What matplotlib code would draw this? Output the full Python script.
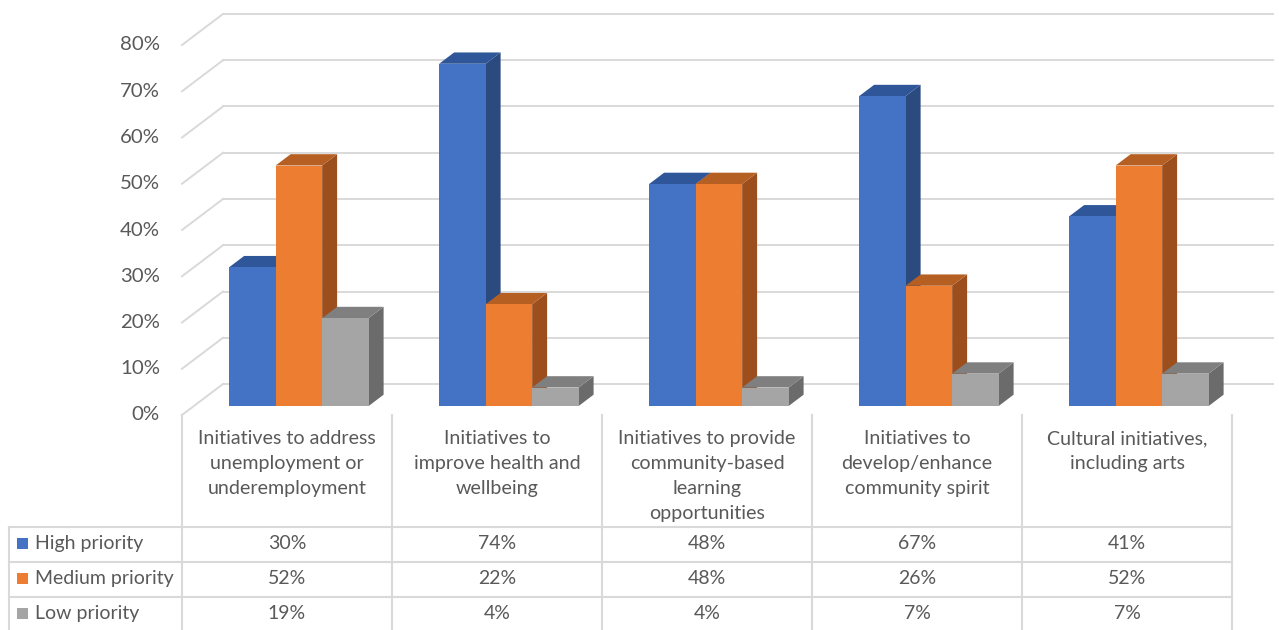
import numpy as np
import matplotlib.pyplot as plt
from matplotlib.patches import Polygon, Rectangle

plt.rcParams['font.family'] = ['Lato', 'DejaVu Sans']

# data
categories = ['Initiatives to address\nunemployment or\nunderemployment',
              'Initiatives to\nimprove health and\nwellbeing',
              'Initiatives to provide\ncommunity-based\nlearning\nopportunities',
              'Initiatives to\ndevelop/enhance\ncommunity spirit',
              'Cultural initiatives,\nincluding arts']
series_names = ['High priority', 'Medium priority', 'Low priority']
high = [30, 74, 48, 67, 41]
medium = [52, 22, 48, 26, 52]
low = [19, 4, 4, 7, 7]
y_ticks = [0, 10, 20, 30, 40, 50, 60, 70, 80]

# face colours: front, top, side
colors = [('#4472C4', '#30569A', '#2B4A80'),
          ('#ED7D31', '#B65F23', '#9C4F1C'),
          ('#A5A5A5', '#7F7F7F', '#6B6B6B')]
grid_c = '#D9D9D9'
text_c = '#595959'

W, H = 1279, 630
fig = plt.figure(figsize=(W / 100, H / 100), dpi=100)

# chart axes: x in category units, y in percent
ax = fig.add_axes([0, 0, 1, 1])
x0_px, cat_px = 182, 210
y0_px, pct_px = 415, 4.625
ax.set_xlim(-x0_px / cat_px, (W - x0_px) / cat_px)
ax.set_ylim(-(H - y0_px) / pct_px, y0_px / pct_px)
ax.axis('off')

n = len(categories)
DX = 41 / cat_px      # full depth offset
DY = 31 / pct_px
d0, d1 = 0.29, 0.655  # bar depth
bw = 46.5 / cat_px

# walls / gridlines
for v in y_ticks:
    ax.plot([DX, n + DX], [v + DY, v + DY], color=grid_c, lw=1.4, zorder=1)
    ax.plot([0, DX], [v, v + DY], color=grid_c, lw=1.4, zorder=1)
    ax.text(-22 / cat_px, v, f'{v}%', ha='right', va='center',
            fontsize=14.7, color=text_c)

# 3d bars
data = [high, medium, low]
dd = d1 - d0
for i in range(n):
    for s, vals in enumerate(data):
        h = vals[i]
        xl = i + 0.5 - 1.5 * bw + s * bw + d0 * DX
        yb = d0 * DY
        front, top, side = colors[s]
        ax.add_patch(Polygon([(xl + bw, yb), (xl + bw, yb + h),
                              (xl + bw + dd * DX, yb + h + dd * DY),
                              (xl + bw + dd * DX, yb + dd * DY)],
                             closed=True, fc=side, ec='none', zorder=3))
        ax.add_patch(Polygon([(xl, yb + h), (xl + bw, yb + h),
                              (xl + bw + dd * DX, yb + h + dd * DY),
                              (xl + dd * DX, yb + h + dd * DY)],
                             closed=True, fc=top, ec='none', zorder=3))
        ax.add_patch(Rectangle((xl, yb), bw, h, fc=front, ec='none', zorder=3))

# data table in pixel coordinates
tx = fig.add_axes([0, 0, 1, 1])
tx.set_xlim(0, W)
tx.set_ylim(H, 0)
tx.axis('off')
tx.patch.set_alpha(0)

col_edges = [x0_px + k * cat_px for k in range(n + 1)]
row_edges = [527, 562, 597, 632]
legend_left = 9
for xe in col_edges:
    tx.plot([xe, xe], [y0_px, H], color=grid_c, lw=1.5)
tx.plot([legend_left, legend_left], [row_edges[0], H], color=grid_c, lw=1.5)
for ye in row_edges[:-1]:
    tx.plot([legend_left, col_edges[-1]], [ye, ye], color=grid_c, lw=1.5)

for i, cat in enumerate(categories):
    cx = (col_edges[i] + col_edges[i + 1]) / 2
    tx.text(cx, 430, cat, ha='center', va='top', fontsize=14.1,
            color=text_c, linespacing=1.56)

for r, (name, vals) in enumerate(zip(series_names, data)):
    cy = (row_edges[r] + row_edges[r + 1]) / 2 - 1
    tx.add_patch(Rectangle((17, cy - 5.5), 11, 11, fc=colors[r][0], ec='none'))
    tx.text(35, cy, name, ha='left', va='center', fontsize=14, color=text_c)
    for i, v in enumerate(vals):
        cx = (col_edges[i] + col_edges[i + 1]) / 2
        tx.text(cx, cy, f'{v}%', ha='center', va='center', fontsize=14,
                color=text_c)

fig.savefig('out.png', dpi=100)
